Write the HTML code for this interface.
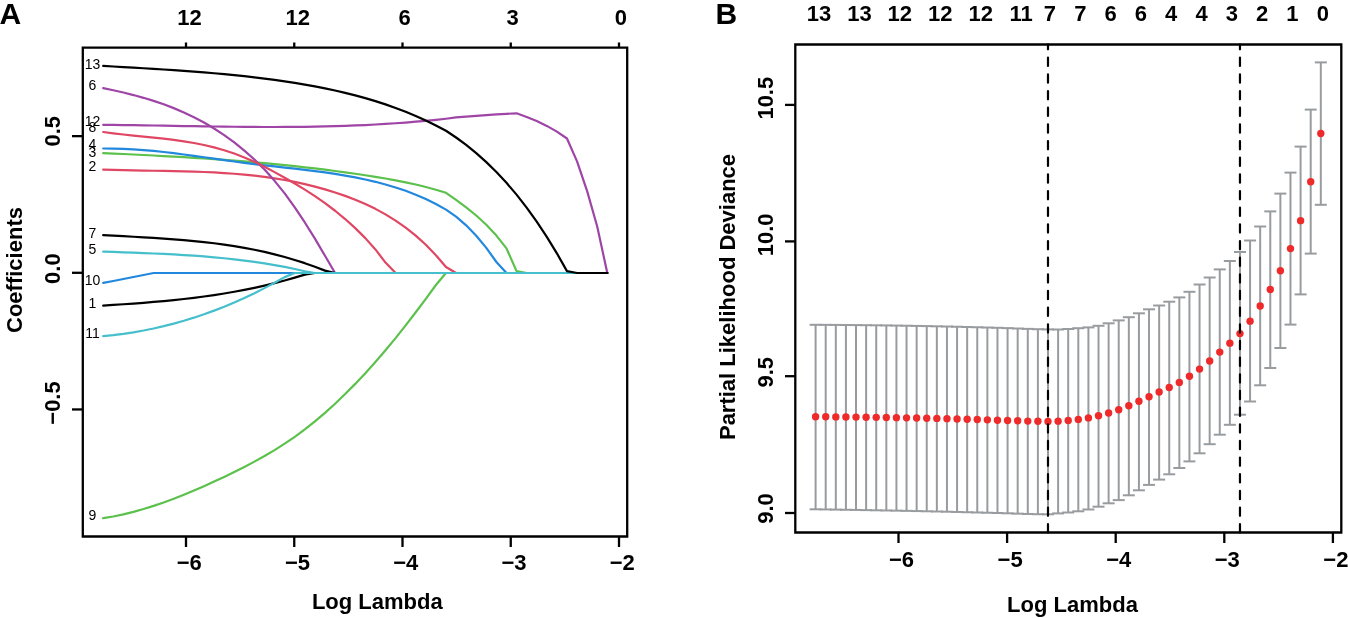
<!DOCTYPE html>
<html><head><meta charset="utf-8"><style>
html,body{margin:0;padding:0;background:#fff;width:1348px;height:618px;overflow:hidden}
svg{display:block;will-change:transform}
text{font-family:"Liberation Sans", sans-serif;text-anchor:middle;fill:#000}
.b{font-weight:bold;font-size:22px}
.B{font-weight:bold;font-size:30px}
.s{font-size:14px}
</style></head><body>
<svg width="1348" height="618" viewBox="0 0 1348 618">
<path d="M103.2,305.6 L113.28,304.95 L123.36,304.27 L133.45,303.55 L143.53,302.79 L153.61,301.96 L163.69,301.06 L173.77,300.08 L183.86,299 L193.94,297.81 L204.02,296.51 L214.1,295.08 L224.18,293.51 L234.27,291.79 L244.35,289.91 L254.43,287.85 L264.51,285.61 L274.59,283.17 L284.68,280.53 L294.76,277.67 L304.84,274.59 L314.92,273 L325,273 L335.09,273 L345.17,273 L355.25,273 L365.33,273 L375.41,273 L385.5,273 L395.58,273 L405.66,273 L415.74,273 L425.82,273 L435.91,273 L445.99,273 L456.07,273 L466.15,273 L476.23,273 L486.32,273 L496.4,273 L506.48,273 L516.56,273 L526.64,273 L536.73,273 L546.81,273 L556.89,273 L566.97,273 L577.05,273 L587.14,273 L597.22,273 L607.3,273" fill="none" stroke="#000000" stroke-width="2.2" stroke-linejoin="round" stroke-linecap="round"/>
<path d="M103.2,169.6 L113.28,169.93 L123.36,170.19 L133.45,170.4 L143.53,170.58 L153.61,170.74 L163.69,170.91 L173.77,171.1 L183.86,171.33 L193.94,171.62 L204.02,171.99 L214.1,172.46 L224.18,173.05 L234.27,173.77 L244.35,174.64 L254.43,175.68 L264.51,176.92 L274.59,178.36 L284.68,180.03 L294.76,181.94 L304.84,184.12 L314.92,186.59 L325,189.35 L335.09,192.43 L345.17,195.86 L355.25,199.68 L365.33,203.98 L375.41,208.85 L385.5,214.36 L395.58,220.6 L405.66,227.66 L415.74,235.67 L425.82,244.79 L435.91,255.18 L445.99,266.98 L456.07,273 L466.15,273 L476.23,273 L486.32,273 L496.4,273 L506.48,273 L516.56,273 L526.64,273 L536.73,273 L546.81,273 L556.89,273 L566.97,273 L577.05,273 L587.14,273 L597.22,273 L607.3,273" fill="none" stroke="#DF4763" stroke-width="2.2" stroke-linejoin="round" stroke-linecap="round"/>
<path d="M103.2,153.09 L113.28,153.55 L123.36,154.02 L133.45,154.5 L143.53,155 L153.61,155.52 L163.69,156.06 L173.77,156.62 L183.86,157.21 L193.94,157.83 L204.02,158.48 L214.1,159.17 L224.18,159.89 L234.27,160.65 L244.35,161.45 L254.43,162.3 L264.51,163.19 L274.59,164.14 L284.68,165.13 L294.76,166.18 L304.84,167.29 L314.92,168.46 L325,169.68 L335.09,170.98 L345.17,172.34 L355.25,173.77 L365.33,175.27 L375.41,176.85 L385.5,178.53 L395.58,180.34 L405.66,182.32 L415.74,184.52 L425.82,186.98 L435.91,189.72 L445.99,192.79 L456.07,199.93 L466.15,207.36 L476.23,215.51 L486.32,224.78 L496.4,235.6 L506.48,248.37 L516.56,271.11 L526.64,273 L536.73,273 L546.81,273 L556.89,273 L566.97,273 L577.05,273 L587.14,273 L597.22,273 L607.3,273" fill="none" stroke="#5CC14C" stroke-width="2.2" stroke-linejoin="round" stroke-linecap="round"/>
<path d="M103.2,148.5 L113.28,148.53 L123.36,148.82 L133.45,149.34 L143.53,150.06 L153.61,150.97 L163.69,152.02 L173.77,153.2 L183.86,154.49 L193.94,155.85 L204.02,157.25 L214.1,158.68 L224.18,160.11 L234.27,161.51 L244.35,162.86 L254.43,164.12 L264.51,165.31 L274.59,166.45 L284.68,167.56 L294.76,168.69 L304.84,169.86 L314.92,171.1 L325,172.45 L335.09,173.93 L345.17,175.57 L355.25,177.42 L365.33,179.48 L375.41,181.81 L385.5,184.44 L395.58,187.43 L405.66,190.82 L415.74,194.68 L425.82,199.06 L435.91,204.01 L445.99,209.59 L456.07,216.7 L466.15,225.35 L476.23,235.69 L486.32,247.85 L496.4,262 L506.48,273 L516.56,273 L526.64,273 L536.73,273 L546.81,273 L556.89,273 L566.97,273 L577.05,273 L587.14,273 L597.22,273 L607.3,273" fill="none" stroke="#2288DD" stroke-width="2.2" stroke-linejoin="round" stroke-linecap="round"/>
<path d="M103.2,251.6 L113.28,251.96 L123.36,252.32 L133.45,252.68 L143.53,253.07 L153.61,253.49 L163.69,253.95 L173.77,254.47 L183.86,255.05 L193.94,255.71 L204.02,256.46 L214.1,257.31 L224.18,258.26 L234.27,259.34 L244.35,260.55 L254.43,261.91 L264.51,263.41 L274.59,265.09 L284.68,266.94 L294.76,268.98 L304.84,271.21 L314.92,273 L325,273 L335.09,273 L345.17,273 L355.25,273 L365.33,273 L375.41,273 L385.5,273 L395.58,273 L405.66,273 L415.74,273 L425.82,273 L435.91,273 L445.99,273 L456.07,273 L466.15,273 L476.23,273 L486.32,273 L496.4,273 L506.48,273 L516.56,273 L526.64,273 L536.73,273 L546.81,273 L556.89,273 L566.97,273 L577.05,273 L587.14,273 L597.22,273 L607.3,273" fill="none" stroke="#45BFCC" stroke-width="2.2" stroke-linejoin="round" stroke-linecap="round"/>
<path d="M103.2,88.1 L113.28,90.25 L123.36,92.55 L133.45,95.06 L143.53,97.82 L153.61,100.88 L163.69,104.3 L173.77,108.13 L183.86,112.42 L193.94,117.21 L204.02,122.56 L214.1,128.53 L224.18,135.15 L234.27,142.48 L244.35,150.58 L254.43,159.55 L264.51,169.58 L274.59,180.85 L284.68,193.43 L294.76,207.34 L304.84,222.46 L314.92,238.66 L325,255.81 L335.09,273 L345.17,273 L355.25,273 L365.33,273 L375.41,273 L385.5,273 L395.58,273 L405.66,273 L415.74,273 L425.82,273 L435.91,273 L445.99,273 L456.07,273 L466.15,273 L476.23,273 L486.32,273 L496.4,273 L506.48,273 L516.56,273 L526.64,273 L536.73,273 L546.81,273 L556.89,273 L566.97,273 L577.05,273 L587.14,273 L597.22,273 L607.3,273" fill="none" stroke="#9E45A6" stroke-width="2.2" stroke-linejoin="round" stroke-linecap="round"/>
<path d="M103.2,235.1 L113.28,235.65 L123.36,236.19 L133.45,236.73 L143.53,237.3 L153.61,237.9 L163.69,238.56 L173.77,239.28 L183.86,240.1 L193.94,241.03 L204.02,242.08 L214.1,243.27 L224.18,244.62 L234.27,246.14 L244.35,247.86 L254.43,249.79 L264.51,251.94 L274.59,254.34 L284.68,257 L294.76,259.94 L304.84,263.17 L314.92,266.72 L325,270.6 L335.09,273 L345.17,273 L355.25,273 L365.33,273 L375.41,273 L385.5,273 L395.58,273 L405.66,273 L415.74,273 L425.82,273 L435.91,273 L445.99,273 L456.07,273 L466.15,273 L476.23,273 L486.32,273 L496.4,273 L506.48,273 L516.56,273 L526.64,273 L536.73,273 L546.81,273 L556.89,273 L566.97,273 L577.05,273 L587.14,273 L597.22,273 L607.3,273" fill="none" stroke="#000000" stroke-width="2.2" stroke-linejoin="round" stroke-linecap="round"/>
<path d="M103.2,132 L113.28,133.34 L123.36,134.51 L133.45,135.56 L143.53,136.57 L153.61,137.58 L163.69,138.67 L173.77,139.89 L183.86,141.31 L193.94,142.99 L204.02,144.98 L214.1,147.36 L224.18,150.19 L234.27,153.52 L244.35,157.41 L254.43,161.86 L264.51,166.79 L274.59,172.1 L284.68,177.71 L294.76,183.54 L304.84,189.66 L314.92,196.17 L325,203.16 L335.09,210.75 L345.17,219.03 L355.25,228.11 L365.33,238.12 L375.41,249.45 L385.5,262.58 L395.58,273 L405.66,273 L415.74,273 L425.82,273 L435.91,273 L445.99,273 L456.07,273 L466.15,273 L476.23,273 L486.32,273 L496.4,273 L506.48,273 L516.56,273 L526.64,273 L536.73,273 L546.81,273 L556.89,273 L566.97,273 L577.05,273 L587.14,273 L597.22,273 L607.3,273" fill="none" stroke="#DF4763" stroke-width="2.2" stroke-linejoin="round" stroke-linecap="round"/>
<path d="M103.2,518.2 L113.28,516.46 L123.36,514.34 L133.45,511.86 L143.53,509.03 L153.61,505.89 L163.69,502.45 L173.77,498.74 L183.86,494.78 L193.94,490.59 L204.02,486.2 L214.1,481.62 L224.18,476.89 L234.27,472.01 L244.35,466.95 L254.43,461.65 L264.51,456.05 L274.59,450.08 L284.68,443.69 L294.76,436.81 L304.84,429.38 L314.92,421.39 L325,412.83 L335.09,403.72 L345.17,394.07 L355.25,383.89 L365.33,373.19 L375.41,361.98 L385.5,350.27 L395.58,338.08 L405.66,325.4 L415.74,312.29 L425.82,298.8 L435.91,284.99 L445.99,273 L456.07,273 L466.15,273 L476.23,273 L486.32,273 L496.4,273 L506.48,273 L516.56,273 L526.64,273 L536.73,273 L546.81,273 L556.89,273 L566.97,273 L577.05,273 L587.14,273 L597.22,273 L607.3,273" fill="none" stroke="#5CC14C" stroke-width="2.2" stroke-linejoin="round" stroke-linecap="round"/>
<path d="M103.2,282.9 L113.28,281.01 L123.36,279 L133.45,276.96 L143.53,275 L153.61,273 L163.69,273 L173.77,273 L183.86,273 L193.94,273 L204.02,273 L214.1,273 L224.18,273 L234.27,273 L244.35,273 L254.43,273 L264.51,273 L274.59,273 L284.68,273 L294.76,273 L304.84,273 L314.92,273 L325,273 L335.09,273 L345.17,273 L355.25,273 L365.33,273 L375.41,273 L385.5,273 L395.58,273 L405.66,273 L415.74,273 L425.82,273 L435.91,273 L445.99,273 L456.07,273 L466.15,273 L476.23,273 L486.32,273 L496.4,273 L506.48,273 L516.56,273 L526.64,273 L536.73,273 L546.81,273 L556.89,273 L566.97,273 L577.05,273 L587.14,273 L597.22,273 L607.3,273" fill="none" stroke="#2288DD" stroke-width="2.2" stroke-linejoin="round" stroke-linecap="round"/>
<path d="M103.2,336.1 L113.28,335.09 L123.36,333.82 L133.45,332.3 L143.53,330.52 L153.61,328.48 L163.69,326.18 L173.77,323.61 L183.86,320.78 L193.94,317.67 L204.02,314.29 L214.1,310.63 L224.18,306.7 L234.27,302.48 L244.35,297.98 L254.43,293.2 L264.51,288.13 L274.59,282.76 L284.68,277.11 L294.76,273 L304.84,273 L314.92,273 L325,273 L335.09,273 L345.17,273 L355.25,273 L365.33,273 L375.41,273 L385.5,273 L395.58,273 L405.66,273 L415.74,273 L425.82,273 L435.91,273 L445.99,273 L456.07,273 L466.15,273 L476.23,273 L486.32,273 L496.4,273 L506.48,273 L516.56,273 L526.64,273 L536.73,273 L546.81,273 L556.89,273 L566.97,273 L577.05,273 L587.14,273 L597.22,273 L607.3,273" fill="none" stroke="#45BFCC" stroke-width="2.2" stroke-linejoin="round" stroke-linecap="round"/>
<path d="M103.2,124.8 L113.28,124.9 L123.36,125.03 L133.45,125.18 L143.53,125.33 L153.61,125.5 L163.69,125.67 L173.77,125.85 L183.86,126.03 L193.94,126.2 L204.02,126.36 L214.1,126.52 L224.18,126.65 L234.27,126.77 L244.35,126.87 L254.43,126.94 L264.51,126.99 L274.59,127 L284.68,126.97 L294.76,126.9 L304.84,126.79 L314.92,126.64 L325,126.43 L335.09,126.17 L345.17,125.85 L355.25,125.47 L365.33,125.03 L375.41,124.52 L385.5,123.93 L395.58,123.27 L405.66,122.53 L415.74,121.71 L425.82,120.81 L435.91,119.81 L445.99,118.72 L456.07,117.45 L466.15,116.59 L476.23,115.8 L486.32,115.08 L496.4,114.42 L506.48,113.83 L516.56,113.3 L526.64,116.92 L536.73,121.06 L546.81,125.91 L556.89,131.65 L566.97,138.48 L577.05,161.38 L587.14,191.12 L597.22,226.5 L607.3,273" fill="none" stroke="#9E45A6" stroke-width="2.2" stroke-linejoin="round" stroke-linecap="round"/>
<path d="M103.2,65.89 L113.28,66.49 L123.36,67.08 L133.45,67.67 L143.53,68.27 L153.61,68.88 L163.69,69.51 L173.77,70.18 L183.86,70.87 L193.94,71.61 L204.02,72.4 L214.1,73.25 L224.18,74.16 L234.27,75.14 L244.35,76.21 L254.43,77.35 L264.51,78.59 L274.59,79.93 L284.68,81.38 L294.76,82.94 L304.84,84.63 L314.92,86.44 L325,88.4 L335.09,90.53 L345.17,92.85 L355.25,95.37 L365.33,98.12 L375.41,101.12 L385.5,104.39 L395.58,107.95 L405.66,111.82 L415.74,116.01 L425.82,120.56 L435.91,125.47 L445.99,130.78 L456.07,137.51 L466.15,144.92 L476.23,153.09 L486.32,162.09 L496.4,171.98 L506.48,182.81 L516.56,194.65 L526.64,207.56 L536.73,221.6 L546.81,236.84 L556.89,253.33 L566.97,271.15 L577.05,273 L587.14,273 L597.22,273 L607.3,273" fill="none" stroke="#000000" stroke-width="2.2" stroke-linejoin="round" stroke-linecap="round"/>
<text x="92.5" y="69.4" class="s">13</text>
<text x="92.5" y="90.4" class="s">6</text>
<text x="92.5" y="125.8" class="s">12</text>
<text x="92.5" y="132.1" class="s">8</text>
<text x="92.5" y="148.6" class="s">4</text>
<text x="92.5" y="156.7" class="s">3</text>
<text x="92.5" y="171.4" class="s">2</text>
<text x="92.5" y="237.9" class="s">7</text>
<text x="92.5" y="254.1" class="s">5</text>
<text x="92.5" y="285.3" class="s">10</text>
<text x="92.5" y="308.3" class="s">1</text>
<text x="92.5" y="337.9" class="s">11</text>
<text x="92.5" y="520.2" class="s">9</text>
<path d="M82.8,47.6 H627.2 V536.5 H82.8 Z" fill="none" stroke="#000" stroke-width="2.3"/>
<line x1="186" y1="536.5" x2="186" y2="547" stroke="#000" stroke-width="2.3"/>
<line x1="186" y1="47.6" x2="186" y2="42.5" stroke="#000" stroke-width="2.3"/>
<line x1="294.25" y1="536.5" x2="294.25" y2="547" stroke="#000" stroke-width="2.3"/>
<line x1="294.25" y1="47.6" x2="294.25" y2="42.5" stroke="#000" stroke-width="2.3"/>
<line x1="402.5" y1="536.5" x2="402.5" y2="547" stroke="#000" stroke-width="2.3"/>
<line x1="402.5" y1="47.6" x2="402.5" y2="42.5" stroke="#000" stroke-width="2.3"/>
<line x1="510.75" y1="536.5" x2="510.75" y2="547" stroke="#000" stroke-width="2.3"/>
<line x1="510.75" y1="47.6" x2="510.75" y2="42.5" stroke="#000" stroke-width="2.3"/>
<line x1="619" y1="536.5" x2="619" y2="547" stroke="#000" stroke-width="2.3"/>
<line x1="619" y1="47.6" x2="619" y2="42.5" stroke="#000" stroke-width="2.3"/>
<line x1="82.8" y1="136.15" x2="72" y2="136.15" stroke="#000" stroke-width="2.3"/>
<line x1="82.8" y1="272.8" x2="72" y2="272.8" stroke="#000" stroke-width="2.3"/>
<line x1="82.8" y1="409.45" x2="72" y2="409.45" stroke="#000" stroke-width="2.3"/>
<text x="189.2" y="570.2" class="b">−6</text>
<text x="297.45" y="570.2" class="b">−5</text>
<text x="405.7" y="570.2" class="b">−4</text>
<text x="513.95" y="570.2" class="b">−3</text>
<text x="622.2" y="570.2" class="b">−2</text>
<text x="189.5" y="25.4" class="b">12</text>
<text x="297.75" y="25.4" class="b">12</text>
<text x="404.5" y="25.4" class="b">6</text>
<text x="512.55" y="25.4" class="b">3</text>
<text x="620.8" y="25.4" class="b">0</text>
<text transform="translate(60,131.3) rotate(-90)" x="0" y="0" class="b">0.5</text>
<text transform="translate(60,268.6) rotate(-90)" x="0" y="0" class="b">0.0</text>
<text transform="translate(60,403) rotate(-90)" x="0" y="0" class="b">−0.5</text>
<text transform="translate(22.3,270) rotate(-90)" x="0" y="0" class="b">Coefficients</text>
<text x="377.3" y="609" class="b">Log Lambda</text>
<text x="-0.6" y="23.7" class="B" style="text-anchor:start">A</text>
<line x1="815.6" y1="324.8" x2="815.6" y2="509.3" stroke="#989C9F" stroke-width="2"/>
<line x1="809.6" y1="324.8" x2="821.6" y2="324.8" stroke="#989C9F" stroke-width="2"/>
<line x1="809.6" y1="509.3" x2="821.6" y2="509.3" stroke="#989C9F" stroke-width="2"/>
<line x1="825.7" y1="324.85" x2="825.7" y2="509.45" stroke="#989C9F" stroke-width="2"/>
<line x1="819.7" y1="324.85" x2="831.7" y2="324.85" stroke="#989C9F" stroke-width="2"/>
<line x1="819.7" y1="509.45" x2="831.7" y2="509.45" stroke="#989C9F" stroke-width="2"/>
<line x1="835.81" y1="324.92" x2="835.81" y2="509.61" stroke="#989C9F" stroke-width="2"/>
<line x1="829.81" y1="324.92" x2="841.81" y2="324.92" stroke="#989C9F" stroke-width="2"/>
<line x1="829.81" y1="509.61" x2="841.81" y2="509.61" stroke="#989C9F" stroke-width="2"/>
<line x1="845.91" y1="325" x2="845.91" y2="509.78" stroke="#989C9F" stroke-width="2"/>
<line x1="839.91" y1="325" x2="851.91" y2="325" stroke="#989C9F" stroke-width="2"/>
<line x1="839.91" y1="509.78" x2="851.91" y2="509.78" stroke="#989C9F" stroke-width="2"/>
<line x1="856.02" y1="325.09" x2="856.02" y2="509.95" stroke="#989C9F" stroke-width="2"/>
<line x1="850.02" y1="325.09" x2="862.02" y2="325.09" stroke="#989C9F" stroke-width="2"/>
<line x1="850.02" y1="509.95" x2="862.02" y2="509.95" stroke="#989C9F" stroke-width="2"/>
<line x1="866.12" y1="325.19" x2="866.12" y2="510.12" stroke="#989C9F" stroke-width="2"/>
<line x1="860.12" y1="325.19" x2="872.12" y2="325.19" stroke="#989C9F" stroke-width="2"/>
<line x1="860.12" y1="510.12" x2="872.12" y2="510.12" stroke="#989C9F" stroke-width="2"/>
<line x1="876.22" y1="325.3" x2="876.22" y2="510.3" stroke="#989C9F" stroke-width="2"/>
<line x1="870.22" y1="325.3" x2="882.22" y2="325.3" stroke="#989C9F" stroke-width="2"/>
<line x1="870.22" y1="510.3" x2="882.22" y2="510.3" stroke="#989C9F" stroke-width="2"/>
<line x1="886.33" y1="325.42" x2="886.33" y2="510.48" stroke="#989C9F" stroke-width="2"/>
<line x1="880.33" y1="325.42" x2="892.33" y2="325.42" stroke="#989C9F" stroke-width="2"/>
<line x1="880.33" y1="510.48" x2="892.33" y2="510.48" stroke="#989C9F" stroke-width="2"/>
<line x1="896.43" y1="325.57" x2="896.43" y2="510.67" stroke="#989C9F" stroke-width="2"/>
<line x1="890.43" y1="325.57" x2="902.43" y2="325.57" stroke="#989C9F" stroke-width="2"/>
<line x1="890.43" y1="510.67" x2="902.43" y2="510.67" stroke="#989C9F" stroke-width="2"/>
<line x1="906.54" y1="325.73" x2="906.54" y2="510.87" stroke="#989C9F" stroke-width="2"/>
<line x1="900.54" y1="325.73" x2="912.54" y2="325.73" stroke="#989C9F" stroke-width="2"/>
<line x1="900.54" y1="510.87" x2="912.54" y2="510.87" stroke="#989C9F" stroke-width="2"/>
<line x1="916.64" y1="325.91" x2="916.64" y2="511.07" stroke="#989C9F" stroke-width="2"/>
<line x1="910.64" y1="325.91" x2="922.64" y2="325.91" stroke="#989C9F" stroke-width="2"/>
<line x1="910.64" y1="511.07" x2="922.64" y2="511.07" stroke="#989C9F" stroke-width="2"/>
<line x1="926.74" y1="326.1" x2="926.74" y2="511.28" stroke="#989C9F" stroke-width="2"/>
<line x1="920.74" y1="326.1" x2="932.74" y2="326.1" stroke="#989C9F" stroke-width="2"/>
<line x1="920.74" y1="511.28" x2="932.74" y2="511.28" stroke="#989C9F" stroke-width="2"/>
<line x1="936.85" y1="326.3" x2="936.85" y2="511.5" stroke="#989C9F" stroke-width="2"/>
<line x1="930.85" y1="326.3" x2="942.85" y2="326.3" stroke="#989C9F" stroke-width="2"/>
<line x1="930.85" y1="511.5" x2="942.85" y2="511.5" stroke="#989C9F" stroke-width="2"/>
<line x1="946.95" y1="326.51" x2="946.95" y2="511.73" stroke="#989C9F" stroke-width="2"/>
<line x1="940.95" y1="326.51" x2="952.95" y2="326.51" stroke="#989C9F" stroke-width="2"/>
<line x1="940.95" y1="511.73" x2="952.95" y2="511.73" stroke="#989C9F" stroke-width="2"/>
<line x1="957.06" y1="326.74" x2="957.06" y2="511.97" stroke="#989C9F" stroke-width="2"/>
<line x1="951.06" y1="326.74" x2="963.06" y2="326.74" stroke="#989C9F" stroke-width="2"/>
<line x1="951.06" y1="511.97" x2="963.06" y2="511.97" stroke="#989C9F" stroke-width="2"/>
<line x1="967.16" y1="326.99" x2="967.16" y2="512.23" stroke="#989C9F" stroke-width="2"/>
<line x1="961.16" y1="326.99" x2="973.16" y2="326.99" stroke="#989C9F" stroke-width="2"/>
<line x1="961.16" y1="512.23" x2="973.16" y2="512.23" stroke="#989C9F" stroke-width="2"/>
<line x1="977.26" y1="327.25" x2="977.26" y2="512.48" stroke="#989C9F" stroke-width="2"/>
<line x1="971.26" y1="327.25" x2="983.26" y2="327.25" stroke="#989C9F" stroke-width="2"/>
<line x1="971.26" y1="512.48" x2="983.26" y2="512.48" stroke="#989C9F" stroke-width="2"/>
<line x1="987.37" y1="327.52" x2="987.37" y2="512.74" stroke="#989C9F" stroke-width="2"/>
<line x1="981.37" y1="327.52" x2="993.37" y2="327.52" stroke="#989C9F" stroke-width="2"/>
<line x1="981.37" y1="512.74" x2="993.37" y2="512.74" stroke="#989C9F" stroke-width="2"/>
<line x1="997.47" y1="327.8" x2="997.47" y2="513" stroke="#989C9F" stroke-width="2"/>
<line x1="991.47" y1="327.8" x2="1003.47" y2="327.8" stroke="#989C9F" stroke-width="2"/>
<line x1="991.47" y1="513" x2="1003.47" y2="513" stroke="#989C9F" stroke-width="2"/>
<line x1="1007.58" y1="328.12" x2="1007.58" y2="513.3" stroke="#989C9F" stroke-width="2"/>
<line x1="1001.58" y1="328.12" x2="1013.58" y2="328.12" stroke="#989C9F" stroke-width="2"/>
<line x1="1001.58" y1="513.3" x2="1013.58" y2="513.3" stroke="#989C9F" stroke-width="2"/>
<line x1="1017.68" y1="328.5" x2="1017.68" y2="513.64" stroke="#989C9F" stroke-width="2"/>
<line x1="1011.68" y1="328.5" x2="1023.68" y2="328.5" stroke="#989C9F" stroke-width="2"/>
<line x1="1011.68" y1="513.64" x2="1023.68" y2="513.64" stroke="#989C9F" stroke-width="2"/>
<line x1="1027.78" y1="328.87" x2="1027.78" y2="513.96" stroke="#989C9F" stroke-width="2"/>
<line x1="1021.78" y1="328.87" x2="1033.78" y2="328.87" stroke="#989C9F" stroke-width="2"/>
<line x1="1021.78" y1="513.96" x2="1033.78" y2="513.96" stroke="#989C9F" stroke-width="2"/>
<line x1="1037.89" y1="329.19" x2="1037.89" y2="514.21" stroke="#989C9F" stroke-width="2"/>
<line x1="1031.89" y1="329.19" x2="1043.89" y2="329.19" stroke="#989C9F" stroke-width="2"/>
<line x1="1031.89" y1="514.21" x2="1043.89" y2="514.21" stroke="#989C9F" stroke-width="2"/>
<line x1="1047.99" y1="329.4" x2="1047.99" y2="514.3" stroke="#989C9F" stroke-width="2"/>
<line x1="1041.99" y1="329.4" x2="1053.99" y2="329.4" stroke="#989C9F" stroke-width="2"/>
<line x1="1041.99" y1="514.3" x2="1053.99" y2="514.3" stroke="#989C9F" stroke-width="2"/>
<line x1="1058.1" y1="329.5" x2="1058.1" y2="513.4" stroke="#989C9F" stroke-width="2"/>
<line x1="1052.1" y1="329.5" x2="1064.1" y2="329.5" stroke="#989C9F" stroke-width="2"/>
<line x1="1052.1" y1="513.4" x2="1064.1" y2="513.4" stroke="#989C9F" stroke-width="2"/>
<line x1="1068.2" y1="329" x2="1068.2" y2="512.5" stroke="#989C9F" stroke-width="2"/>
<line x1="1062.2" y1="329" x2="1074.2" y2="329" stroke="#989C9F" stroke-width="2"/>
<line x1="1062.2" y1="512.5" x2="1074.2" y2="512.5" stroke="#989C9F" stroke-width="2"/>
<line x1="1078.3" y1="328.2" x2="1078.3" y2="511.3" stroke="#989C9F" stroke-width="2"/>
<line x1="1072.3" y1="328.2" x2="1084.3" y2="328.2" stroke="#989C9F" stroke-width="2"/>
<line x1="1072.3" y1="511.3" x2="1084.3" y2="511.3" stroke="#989C9F" stroke-width="2"/>
<line x1="1088.41" y1="327.4" x2="1088.41" y2="509.5" stroke="#989C9F" stroke-width="2"/>
<line x1="1082.41" y1="327.4" x2="1094.41" y2="327.4" stroke="#989C9F" stroke-width="2"/>
<line x1="1082.41" y1="509.5" x2="1094.41" y2="509.5" stroke="#989C9F" stroke-width="2"/>
<line x1="1098.51" y1="325.8" x2="1098.51" y2="506.7" stroke="#989C9F" stroke-width="2"/>
<line x1="1092.51" y1="325.8" x2="1104.51" y2="325.8" stroke="#989C9F" stroke-width="2"/>
<line x1="1092.51" y1="506.7" x2="1104.51" y2="506.7" stroke="#989C9F" stroke-width="2"/>
<line x1="1108.62" y1="323.3" x2="1108.62" y2="503.3" stroke="#989C9F" stroke-width="2"/>
<line x1="1102.62" y1="323.3" x2="1114.62" y2="323.3" stroke="#989C9F" stroke-width="2"/>
<line x1="1102.62" y1="503.3" x2="1114.62" y2="503.3" stroke="#989C9F" stroke-width="2"/>
<line x1="1118.72" y1="320.4" x2="1118.72" y2="500.1" stroke="#989C9F" stroke-width="2"/>
<line x1="1112.72" y1="320.4" x2="1124.72" y2="320.4" stroke="#989C9F" stroke-width="2"/>
<line x1="1112.72" y1="500.1" x2="1124.72" y2="500.1" stroke="#989C9F" stroke-width="2"/>
<line x1="1128.82" y1="317.2" x2="1128.82" y2="495.3" stroke="#989C9F" stroke-width="2"/>
<line x1="1122.82" y1="317.2" x2="1134.82" y2="317.2" stroke="#989C9F" stroke-width="2"/>
<line x1="1122.82" y1="495.3" x2="1134.82" y2="495.3" stroke="#989C9F" stroke-width="2"/>
<line x1="1138.93" y1="313.3" x2="1138.93" y2="490.3" stroke="#989C9F" stroke-width="2"/>
<line x1="1132.93" y1="313.3" x2="1144.93" y2="313.3" stroke="#989C9F" stroke-width="2"/>
<line x1="1132.93" y1="490.3" x2="1144.93" y2="490.3" stroke="#989C9F" stroke-width="2"/>
<line x1="1149.03" y1="309.3" x2="1149.03" y2="484.9" stroke="#989C9F" stroke-width="2"/>
<line x1="1143.03" y1="309.3" x2="1155.03" y2="309.3" stroke="#989C9F" stroke-width="2"/>
<line x1="1143.03" y1="484.9" x2="1155.03" y2="484.9" stroke="#989C9F" stroke-width="2"/>
<line x1="1159.14" y1="305.5" x2="1159.14" y2="479.6" stroke="#989C9F" stroke-width="2"/>
<line x1="1153.14" y1="305.5" x2="1165.14" y2="305.5" stroke="#989C9F" stroke-width="2"/>
<line x1="1153.14" y1="479.6" x2="1165.14" y2="479.6" stroke="#989C9F" stroke-width="2"/>
<line x1="1169.24" y1="301.7" x2="1169.24" y2="474.3" stroke="#989C9F" stroke-width="2"/>
<line x1="1163.24" y1="301.7" x2="1175.24" y2="301.7" stroke="#989C9F" stroke-width="2"/>
<line x1="1163.24" y1="474.3" x2="1175.24" y2="474.3" stroke="#989C9F" stroke-width="2"/>
<line x1="1179.34" y1="297.4" x2="1179.34" y2="468" stroke="#989C9F" stroke-width="2"/>
<line x1="1173.34" y1="297.4" x2="1185.34" y2="297.4" stroke="#989C9F" stroke-width="2"/>
<line x1="1173.34" y1="468" x2="1185.34" y2="468" stroke="#989C9F" stroke-width="2"/>
<line x1="1189.45" y1="291.8" x2="1189.45" y2="461.4" stroke="#989C9F" stroke-width="2"/>
<line x1="1183.45" y1="291.8" x2="1195.45" y2="291.8" stroke="#989C9F" stroke-width="2"/>
<line x1="1183.45" y1="461.4" x2="1195.45" y2="461.4" stroke="#989C9F" stroke-width="2"/>
<line x1="1199.55" y1="284.5" x2="1199.55" y2="453.3" stroke="#989C9F" stroke-width="2"/>
<line x1="1193.55" y1="284.5" x2="1205.55" y2="284.5" stroke="#989C9F" stroke-width="2"/>
<line x1="1193.55" y1="453.3" x2="1205.55" y2="453.3" stroke="#989C9F" stroke-width="2"/>
<line x1="1209.66" y1="277.5" x2="1209.66" y2="444.2" stroke="#989C9F" stroke-width="2"/>
<line x1="1203.66" y1="277.5" x2="1215.66" y2="277.5" stroke="#989C9F" stroke-width="2"/>
<line x1="1203.66" y1="444.2" x2="1215.66" y2="444.2" stroke="#989C9F" stroke-width="2"/>
<line x1="1219.76" y1="269.4" x2="1219.76" y2="434.7" stroke="#989C9F" stroke-width="2"/>
<line x1="1213.76" y1="269.4" x2="1225.76" y2="269.4" stroke="#989C9F" stroke-width="2"/>
<line x1="1213.76" y1="434.7" x2="1225.76" y2="434.7" stroke="#989C9F" stroke-width="2"/>
<line x1="1229.86" y1="261" x2="1229.86" y2="424.8" stroke="#989C9F" stroke-width="2"/>
<line x1="1223.86" y1="261" x2="1235.86" y2="261" stroke="#989C9F" stroke-width="2"/>
<line x1="1223.86" y1="424.8" x2="1235.86" y2="424.8" stroke="#989C9F" stroke-width="2"/>
<line x1="1239.97" y1="252" x2="1239.97" y2="414.7" stroke="#989C9F" stroke-width="2"/>
<line x1="1233.97" y1="252" x2="1245.97" y2="252" stroke="#989C9F" stroke-width="2"/>
<line x1="1233.97" y1="414.7" x2="1245.97" y2="414.7" stroke="#989C9F" stroke-width="2"/>
<line x1="1250.07" y1="240.5" x2="1250.07" y2="401.5" stroke="#989C9F" stroke-width="2"/>
<line x1="1244.07" y1="240.5" x2="1256.07" y2="240.5" stroke="#989C9F" stroke-width="2"/>
<line x1="1244.07" y1="401.5" x2="1256.07" y2="401.5" stroke="#989C9F" stroke-width="2"/>
<line x1="1260.18" y1="226.5" x2="1260.18" y2="385.3" stroke="#989C9F" stroke-width="2"/>
<line x1="1254.18" y1="226.5" x2="1266.18" y2="226.5" stroke="#989C9F" stroke-width="2"/>
<line x1="1254.18" y1="385.3" x2="1266.18" y2="385.3" stroke="#989C9F" stroke-width="2"/>
<line x1="1270.28" y1="211.4" x2="1270.28" y2="368" stroke="#989C9F" stroke-width="2"/>
<line x1="1264.28" y1="211.4" x2="1276.28" y2="211.4" stroke="#989C9F" stroke-width="2"/>
<line x1="1264.28" y1="368" x2="1276.28" y2="368" stroke="#989C9F" stroke-width="2"/>
<line x1="1280.38" y1="193.6" x2="1280.38" y2="348" stroke="#989C9F" stroke-width="2"/>
<line x1="1274.38" y1="193.6" x2="1286.38" y2="193.6" stroke="#989C9F" stroke-width="2"/>
<line x1="1274.38" y1="348" x2="1286.38" y2="348" stroke="#989C9F" stroke-width="2"/>
<line x1="1290.49" y1="172.6" x2="1290.49" y2="324.6" stroke="#989C9F" stroke-width="2"/>
<line x1="1284.49" y1="172.6" x2="1296.49" y2="172.6" stroke="#989C9F" stroke-width="2"/>
<line x1="1284.49" y1="324.6" x2="1296.49" y2="324.6" stroke="#989C9F" stroke-width="2"/>
<line x1="1300.59" y1="146.6" x2="1300.59" y2="294.4" stroke="#989C9F" stroke-width="2"/>
<line x1="1294.59" y1="146.6" x2="1306.59" y2="146.6" stroke="#989C9F" stroke-width="2"/>
<line x1="1294.59" y1="294.4" x2="1306.59" y2="294.4" stroke="#989C9F" stroke-width="2"/>
<line x1="1310.7" y1="109.6" x2="1310.7" y2="253.6" stroke="#989C9F" stroke-width="2"/>
<line x1="1304.7" y1="109.6" x2="1316.7" y2="109.6" stroke="#989C9F" stroke-width="2"/>
<line x1="1304.7" y1="253.6" x2="1316.7" y2="253.6" stroke="#989C9F" stroke-width="2"/>
<line x1="1320.8" y1="62.4" x2="1320.8" y2="204.8" stroke="#989C9F" stroke-width="2"/>
<line x1="1314.8" y1="62.4" x2="1326.8" y2="62.4" stroke="#989C9F" stroke-width="2"/>
<line x1="1314.8" y1="204.8" x2="1326.8" y2="204.8" stroke="#989C9F" stroke-width="2"/>
<circle cx="815.6" cy="416.73" r="3.7" fill="#EE2A2A"/>
<circle cx="825.7" cy="416.8" r="3.7" fill="#EE2A2A"/>
<circle cx="835.81" cy="416.89" r="3.7" fill="#EE2A2A"/>
<circle cx="845.91" cy="417" r="3.7" fill="#EE2A2A"/>
<circle cx="856.02" cy="417.11" r="3.7" fill="#EE2A2A"/>
<circle cx="866.12" cy="417.24" r="3.7" fill="#EE2A2A"/>
<circle cx="876.22" cy="417.37" r="3.7" fill="#EE2A2A"/>
<circle cx="886.33" cy="417.52" r="3.7" fill="#EE2A2A"/>
<circle cx="896.43" cy="417.67" r="3.7" fill="#EE2A2A"/>
<circle cx="906.54" cy="417.84" r="3.7" fill="#EE2A2A"/>
<circle cx="916.64" cy="418.01" r="3.7" fill="#EE2A2A"/>
<circle cx="926.74" cy="418.2" r="3.7" fill="#EE2A2A"/>
<circle cx="936.85" cy="418.4" r="3.7" fill="#EE2A2A"/>
<circle cx="946.95" cy="418.65" r="3.7" fill="#EE2A2A"/>
<circle cx="957.06" cy="418.93" r="3.7" fill="#EE2A2A"/>
<circle cx="967.16" cy="419.23" r="3.7" fill="#EE2A2A"/>
<circle cx="977.26" cy="419.54" r="3.7" fill="#EE2A2A"/>
<circle cx="987.37" cy="419.86" r="3.7" fill="#EE2A2A"/>
<circle cx="997.47" cy="420.18" r="3.7" fill="#EE2A2A"/>
<circle cx="1007.58" cy="420.5" r="3.7" fill="#EE2A2A"/>
<circle cx="1017.68" cy="420.82" r="3.7" fill="#EE2A2A"/>
<circle cx="1027.78" cy="421.11" r="3.7" fill="#EE2A2A"/>
<circle cx="1037.89" cy="421.32" r="3.7" fill="#EE2A2A"/>
<circle cx="1047.99" cy="421.42" r="3.7" fill="#EE2A2A"/>
<circle cx="1058.1" cy="421.17" r="3.7" fill="#EE2A2A"/>
<circle cx="1068.2" cy="420.43" r="3.7" fill="#EE2A2A"/>
<circle cx="1078.3" cy="419.38" r="3.7" fill="#EE2A2A"/>
<circle cx="1088.41" cy="417.92" r="3.7" fill="#EE2A2A"/>
<circle cx="1098.51" cy="415.77" r="3.7" fill="#EE2A2A"/>
<circle cx="1108.62" cy="413" r="3.7" fill="#EE2A2A"/>
<circle cx="1118.72" cy="409.77" r="3.7" fill="#EE2A2A"/>
<circle cx="1128.82" cy="405.82" r="3.7" fill="#EE2A2A"/>
<circle cx="1138.93" cy="401.25" r="3.7" fill="#EE2A2A"/>
<circle cx="1149.03" cy="396.7" r="3.7" fill="#EE2A2A"/>
<circle cx="1159.14" cy="392.02" r="3.7" fill="#EE2A2A"/>
<circle cx="1169.24" cy="387.5" r="3.7" fill="#EE2A2A"/>
<circle cx="1179.34" cy="382.4" r="3.7" fill="#EE2A2A"/>
<circle cx="1189.45" cy="376.2" r="3.7" fill="#EE2A2A"/>
<circle cx="1199.55" cy="369.1" r="3.7" fill="#EE2A2A"/>
<circle cx="1209.66" cy="360.98" r="3.7" fill="#EE2A2A"/>
<circle cx="1219.76" cy="352.12" r="3.7" fill="#EE2A2A"/>
<circle cx="1229.86" cy="343.15" r="3.7" fill="#EE2A2A"/>
<circle cx="1239.97" cy="333.62" r="3.7" fill="#EE2A2A"/>
<circle cx="1250.07" cy="321.15" r="3.7" fill="#EE2A2A"/>
<circle cx="1260.18" cy="306" r="3.7" fill="#EE2A2A"/>
<circle cx="1270.28" cy="289.5" r="3.7" fill="#EE2A2A"/>
<circle cx="1280.38" cy="270.7" r="3.7" fill="#EE2A2A"/>
<circle cx="1290.49" cy="248.6" r="3.7" fill="#EE2A2A"/>
<circle cx="1300.59" cy="220.65" r="3.7" fill="#EE2A2A"/>
<circle cx="1310.7" cy="181.7" r="3.7" fill="#EE2A2A"/>
<circle cx="1320.8" cy="133.45" r="3.7" fill="#EE2A2A"/>
<line x1="1047.99" y1="532.5" x2="1047.99" y2="44.5" stroke="#000" stroke-width="2.2" stroke-dasharray="8.3 8.36" stroke-linecap="round"/>
<line x1="1239.97" y1="532.5" x2="1239.97" y2="44.5" stroke="#000" stroke-width="2.2" stroke-dasharray="8.3 8.36" stroke-linecap="round"/>
<path d="M795.3,44.5 H1341.3 V532.5 H795.3 Z" fill="none" stroke="#000" stroke-width="2.3"/>
<line x1="898.5" y1="532.5" x2="898.5" y2="543" stroke="#000" stroke-width="2.3"/>
<line x1="1007.1" y1="532.5" x2="1007.1" y2="543" stroke="#000" stroke-width="2.3"/>
<line x1="1115.7" y1="532.5" x2="1115.7" y2="543" stroke="#000" stroke-width="2.3"/>
<line x1="1224.3" y1="532.5" x2="1224.3" y2="543" stroke="#000" stroke-width="2.3"/>
<line x1="1332.9" y1="532.5" x2="1332.9" y2="543" stroke="#000" stroke-width="2.3"/>
<line x1="795.3" y1="104.9" x2="785" y2="104.9" stroke="#000" stroke-width="2.3"/>
<line x1="795.3" y1="241.4" x2="785" y2="241.4" stroke="#000" stroke-width="2.3"/>
<line x1="795.3" y1="376.2" x2="785" y2="376.2" stroke="#000" stroke-width="2.3"/>
<line x1="795.3" y1="513" x2="785" y2="513" stroke="#000" stroke-width="2.3"/>
<text x="901.5" y="566.7" class="b">−6</text>
<text x="1010.1" y="566.7" class="b">−5</text>
<text x="1118.7" y="566.7" class="b">−4</text>
<text x="1227.3" y="566.7" class="b">−3</text>
<text x="1335.9" y="566.7" class="b">−2</text>
<text x="819" y="21.3" class="b">13</text>
<text x="859.42" y="21.3" class="b">13</text>
<text x="899.83" y="21.3" class="b">12</text>
<text x="940.25" y="21.3" class="b">12</text>
<text x="980.66" y="21.3" class="b">12</text>
<text x="1021.08" y="21.3" class="b">11</text>
<text x="1049.99" y="21.3" class="b">7</text>
<text x="1080.3" y="21.3" class="b">7</text>
<text x="1110.62" y="21.3" class="b">6</text>
<text x="1140.93" y="21.3" class="b">6</text>
<text x="1171.24" y="21.3" class="b">4</text>
<text x="1201.55" y="21.3" class="b">4</text>
<text x="1231.86" y="21.3" class="b">3</text>
<text x="1262.18" y="21.3" class="b">2</text>
<text x="1292.49" y="21.3" class="b">1</text>
<text x="1322.8" y="21.3" class="b">0</text>
<text transform="translate(773.3,98.2) rotate(-90)" x="0" y="0" class="b">10.5</text>
<text transform="translate(773.3,234.9) rotate(-90)" x="0" y="0" class="b">10.0</text>
<text transform="translate(773.3,372.3) rotate(-90)" x="0" y="0" class="b">9.5</text>
<text transform="translate(773.3,508.5) rotate(-90)" x="0" y="0" class="b">9.0</text>
<text transform="translate(735,297) rotate(-90)" x="0" y="0" class="b">Partial Likelihood Deviance</text>
<text x="1072.5" y="612.4" class="b">Log Lambda</text>
<text x="715.4" y="24.2" class="B" style="text-anchor:start">B</text>
</svg>
</body></html>
